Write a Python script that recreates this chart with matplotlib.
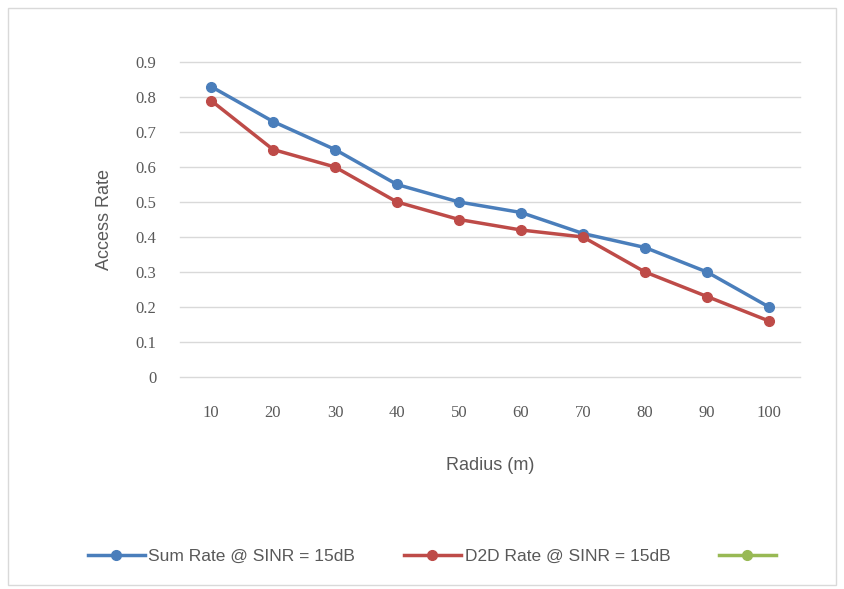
import matplotlib
matplotlib.use("Agg")
import matplotlib.pyplot as plt
from matplotlib.patches import Rectangle

radius = ["10", "20", "30", "40", "50", "60", "70", "80", "90", "100"]
sum_rate = [0.83, 0.73, 0.65, 0.55, 0.50, 0.47, 0.41, 0.37, 0.30, 0.20]
d2d_rate = [0.79, 0.65, 0.60, 0.50, 0.45, 0.42, 0.40, 0.30, 0.23, 0.16]
yticks = [0, 0.1, 0.2, 0.3, 0.4, 0.5, 0.6, 0.7, 0.8, 0.9]
ytick_labels = ["0", "0.1", "0.2", "0.3", "0.4", "0.5", "0.6", "0.7", "0.8", "0.9"]

plt.rcParams['font.family'] = ['Liberation Sans', 'DejaVu Sans']
txt = "#595959"

fig = plt.figure(figsize=(8.45, 5.89), dpi=100)
fig.patches.append(Rectangle((8/845, 1-585/589), 828/845, 577/589, transform=fig.transFigure,
                             fill=False, edgecolor="#D9D9D9", linewidth=1))
ax = fig.add_axes([180/845, 1-377/589, 620/845, 315/589])
x = list(range(len(radius)))
ax.plot(x, sum_rate, color="#4A7EBB", lw=2.5, marker="o", ms=7, label="Sum Rate @ SINR = 15dB")
ax.plot(x, d2d_rate, color="#BE4B48", lw=2.5, marker="o", ms=7, label="D2D Rate @ SINR = 15dB")
ax.plot([], [], color="#98B954", lw=2.5, marker="o", ms=7, label=" ")
ax.set_xlim(-0.5, len(radius) - 0.5)
ax.set_ylim(0, 0.9)
ax.set_yticks(yticks)
ax.set_yticklabels(ytick_labels)
ax.set_xticks(x)
ax.set_xticklabels(radius)
ax.grid(axis="y", color="#D9D9D9", lw=1)
for gl in ax.get_ygridlines():
    gl.set_clip_on(False)
ax.set_axisbelow(True)
for s in ax.spines.values():
    s.set_visible(False)
ax.tick_params(length=0, colors=txt, labelsize=12)
for lab in ax.get_xticklabels() + ax.get_yticklabels():
    lab.set_family(['Liberation Serif', 'DejaVu Serif'])
ax.tick_params(axis="x", pad=20)
ax.tick_params(axis="y", pad=17)
ax.set_xlabel("Radius (m)", color=txt, fontsize=13, labelpad=26)
ax.set_ylabel("Access Rate", color=txt, fontsize=13, labelpad=16)
leg = fig.legend(loc="center", bbox_to_anchor=(436/845, 1-556/589), ncol=3, frameon=False,
                 fontsize=12.5, handlelength=3.3, columnspacing=2.8, handletextpad=0.2)
for t in leg.get_texts():
    t.set_color(txt)
fig.savefig("out.png", dpi=100)
